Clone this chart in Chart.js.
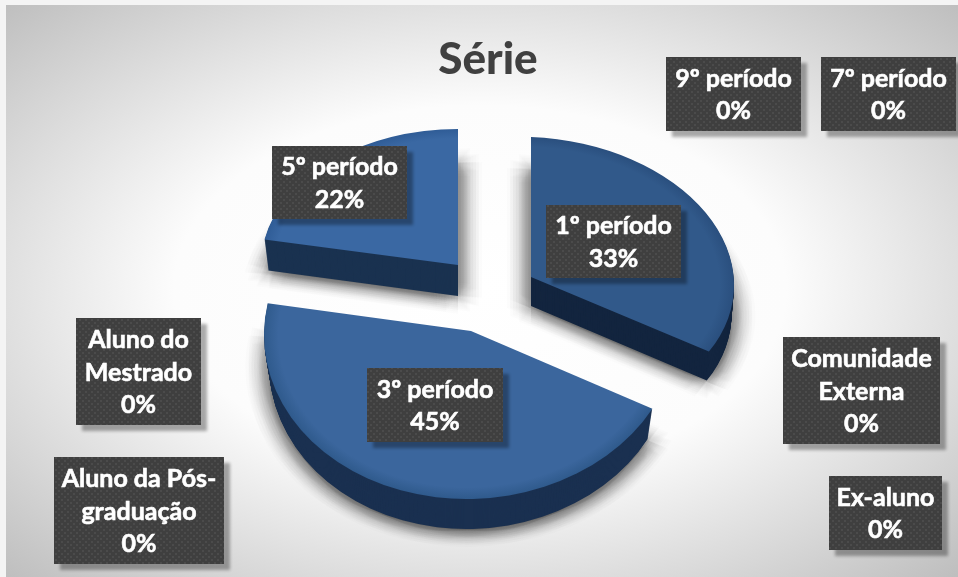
<!DOCTYPE html>
<html>
<head>
<meta charset="utf-8">
<style>html,body{margin:0;padding:0;background:#fff}#w{width:958px;height:577px;position:relative}canvas{display:block}</style>
<script src="https://cdn.jsdelivr.net/npm/chart.js@4"></script>
</head>
<body>
<div id="w"><canvas id="c" width="958" height="577"></canvas></div>
<script>
const chartTitle = 'Série';
const categories = ['1º período','3º período','5º período','7º período','9º período','Comunidade Externa','Ex-aluno','Aluno da Pós-graduação','Aluno do Mestrado'];
const percentages = [33,45,22,0,0,0,0,0,0];
const topColors = ['#31598A','#3B669D','#3A68A3'];
const rimColors = ['#2A4F7E','#2F5A8C','#2F5C96'];
const wallColors = ['#13253F','#1A3050','#1A3250'];

// layout of each drawn slice: apex on screen, ellipse radii, shear, wall depth
const apexX = [531,471,458];
const apexY = [277,331,265];
const radX = [203,207,197];
const radY = [140,168,136];
const shear = [0.04,-0.018,0];
const depth = [29,30,31];
const wallNarrow = [0.012,0.025,0.02];

// label boxes: left, top, right, bottom + wrapped lines
const boxes = [
  [546,205,681,278,['1º período']],
  [367,368,503,442,['3º período']],
  [272,146,407,219,['5º período']],
  [821,57,956,131,['7º período']],
  [666,57,801,131,['9º período']],
  [783,337,940,444,['Comunidade','Externa']],
  [829,476,942,550,['Ex-aluno']],
  [54,457,224,564,['Aluno da Pós-','graduação']],
  [76,318,201,425,['Aluno do','Mestrado']]
];

function place(ctx, arc, i, d){
  const R = arc.outerRadius;
  const sx = radX[i]/R*(1 - wallNarrow[i]*d/depth[i]);
  ctx.translate(apexX[i], apexY[i]+d);
  ctx.transform(sx, shear[i]*radX[i]/R, 0, radY[i]/R, 0, 0);
  ctx.translate(-arc.x, -arc.y);
}
function paint(ctx, arc, fill){
  const saved = arc.options;
  arc.options = Object.assign({}, saved, {backgroundColor:fill, borderWidth:0, offset:0});
  arc.draw(ctx);
  arc.options = saved;
}
const pie3d = {
  id:'pie3d',
  beforeDraw(chart){
    const ctx = chart.ctx;
    ctx.save();
    ctx.fillStyle='#f4f4f4';
    ctx.fillRect(0,0,958,577);
    ctx.beginPath();
    ctx.rect(6,5,952,572);
    ctx.clip();
    ctx.translate(480,290);
    ctx.scale(680,410);
    const g = ctx.createRadialGradient(0,0,0,0,0,1);
    g.addColorStop(0,'#ffffff');
    g.addColorStop(0.45,'#fcfcfc');
    g.addColorStop(1,'#bdbdbd');
    ctx.fillStyle=g;
    ctx.fillRect(-1.1,-1.1,2.2,2.2);
    ctx.restore();
  },
  beforeDatasetsDraw(chart){
    const ctx = chart.ctx;
    const arcs = chart.getDatasetMeta(0).data;
    const used = arcs.map((a,i)=>i).filter(i=>percentages[i]>0);
    // soft cast shadows: stacked faint copies of each slice
    used.forEach(i=>{
      for(let ring=1;ring<=8;ring++){
        for(let k=0;k<12;k++){
          const t=k/12*Math.PI*2;
          ctx.save();
          ctx.translate(Math.cos(t)*ring*3, Math.sin(t)*ring*2+2);
          place(ctx,arcs[i],i,depth[i]);
          paint(ctx,arcs[i],'rgba(0,0,0,0.0125)');
          ctx.restore();
        }
      }
    });
    // side walls
    used.forEach(i=>{
      for(let d=depth[i];d>=1;d--){
        ctx.save();
        place(ctx,arcs[i],i,d);
        paint(ctx,arcs[i],wallColors[i]);
        ctx.restore();
      }
    });
    // top faces
    used.forEach(i=>{
      ctx.save();
      place(ctx,arcs[i],i,0);
      const a=arcs[i];
      const g=ctx.createRadialGradient(a.x,a.y,0,a.x,a.y,a.outerRadius);
      g.addColorStop(0,topColors[i]);
      g.addColorStop(0.93,topColors[i]);
      g.addColorStop(1,rimColors[i]);
      paint(ctx,a,g);
      ctx.restore();
    });
    return false;
  },
  afterDraw(chart){
    const ctx = chart.ctx;
    const pc = document.createElement('canvas');
    pc.width=6;pc.height=6;
    const p=pc.getContext('2d');
    p.fillStyle='#3f3f3f';p.fillRect(0,0,6,6);
    p.fillStyle='#4b4b4b';p.fillRect(1,1,2,2);p.fillRect(4,4,2,2);
    const pattern=ctx.createPattern(pc,'repeat');
    boxes.forEach((b,i)=>{
      const [l,t,r,bt,lines]=b;
      ctx.save();
      ctx.shadowColor='rgba(0,0,0,0.32)';
      ctx.shadowBlur=3;
      ctx.shadowOffsetX=6;
      ctx.shadowOffsetY=6;
      ctx.fillStyle='#3f3f3f';
      ctx.fillRect(l,t,r-l,bt-t);
      ctx.restore();
      ctx.fillStyle=pattern;
      ctx.fillRect(l,t,r-l,bt-t);
      const all=lines.concat([percentages[i]+'%']);
      ctx.save();
      ctx.font='bold 25px Lato';
      ctx.fillStyle='#ffffff';
      ctx.strokeStyle='#ffffff';
      ctx.lineWidth=0.6;
      ctx.textAlign='center';
      ctx.textBaseline='middle';
      const lh=32.5, cx=(l+r)/2, cy=(t+bt)/2+1;
      all.forEach((s,k)=>{
        const y=cy+(k-(all.length-1)/2)*lh;
        ctx.fillText(s,cx,y);
        ctx.strokeText(s,cx,y);
      });
      ctx.restore();
    });
  }
};
new Chart(document.getElementById('c'),{
  type:'pie',
  data:{labels:categories,datasets:[{data:percentages,backgroundColor:topColors,borderWidth:0}]},
  options:{
    responsive:false,
    animation:false,
    layout:{padding:{left:18,top:33,right:0,bottom:0}},
    events:[],
    plugins:{
      legend:{display:false},
      tooltip:{enabled:false},
      title:{display:true,text:chartTitle,color:'#404040',font:{family:'Lato',size:44,weight:'900'},padding:{top:0,bottom:10}}
    }
  },
  plugins:[pie3d]
});
</script>
</body>
</html>
